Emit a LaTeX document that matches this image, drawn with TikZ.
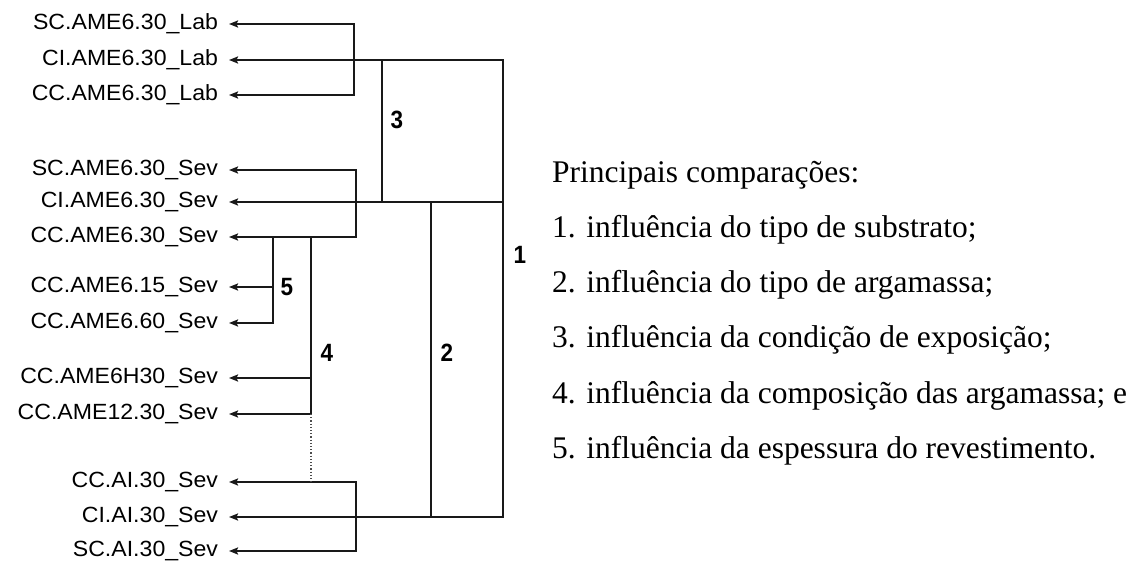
\documentclass[tikz,border=0pt]{standalone}
\usepackage{fontspec}
\usetikzlibrary{arrows.meta}
\newfontfamily\lblfont[FakeStretch=1.05]{Liberation Sans}
\newfontfamily\numfont[FakeStretch=0.9]{Liberation Sans}
\newfontfamily\txtfont{Liberation Serif}
\begin{document}
\begin{tikzpicture}[x=1pt,y=-1pt,
  lbl/.style={anchor=east,inner xsep=11pt,inner ysep=0pt,outer sep=0pt,font=\lblfont\fontsize{22}{26}\selectfont},
  num/.style={inner sep=0pt,font=\numfont\bfseries\fontsize{25}{29}\selectfont},
  txt/.style={anchor=west,inner sep=0pt,font=\txtfont\fontsize{31.5}{36}\selectfont},
  ln/.style={line width=2pt,draw=black!90},
  tip/.tip={Stealth[length=9pt,width=7pt,inset=1.5pt]},
  arr/.style={ln,-tip},
  arr2/.style={ln,tip-tip},
  dot/.style={line width=1.2pt,draw=black!70,dotted}]
\useasboundingbox (0,0) rectangle (1136,562);
% labels
\node[lbl] (n1) at (229,24) {SC.AME6.30\_Lab};
\node[lbl] (n2) at (229,60) {CI.AME6.30\_Lab};
\node[lbl] (n3) at (229,95) {CC.AME6.30\_Lab};
\node[lbl] (n4) at (229,170) {SC.AME6.30\_Sev};
\node[lbl] (n5) at (229,202) {CI.AME6.30\_Sev};
\node[lbl] (n6) at (229,237) {CC.AME6.30\_Sev};
\node[lbl] (n7) at (229,287) {CC.AME6.15\_Sev};
\node[lbl] (n8) at (229,323) {CC.AME6.60\_Sev};
\node[lbl] (n9) at (229,378) {CC.AME6H30\_Sev};
\node[lbl] (n10) at (229,414) {CC.AME12.30\_Sev};
\node[lbl] (n11) at (229,482) {CC.AI.30\_Sev};
\node[lbl] (n12) at (229,517) {CI.AI.30\_Sev};
\node[lbl] (n13) at (229,551) {SC.AI.30\_Sev};
% bracket x positions
\coordinate (xL) at (354,0);
\coordinate (xS) at (356,0);
\coordinate (xA) at (356,0);
\coordinate (x1) at (503,0);
\coordinate (x2) at (431,0);
\coordinate (x3) at (382,0);
\coordinate (x4) at (311,0);
\coordinate (x5) at (273,0);
% connectors
\draw[arr2] (n1.east) -- (n1.east -| xL) -- (n3.east -| xL) -- (n3.east);
\draw[arr2] (n4.east) -- (n4.east -| xS) -- (n6.east -| xS) -- (n6.east);
\draw[arr2] (n11.east) -- (n11.east -| xA) -- (n13.east -| xA) -- (n13.east);
\draw[arr2] (n2.east) -- (n2.east -| x1) -- (n12.east -| x1) -- (n12.east);
\draw[arr] (n5.east -| x1) -- (n5.east);
\draw[ln] (n2.east -| x3) -- (n5.east -| x3);
\draw[ln] (n5.east -| x2) -- (n12.east -| x2);
\draw[arr] (n6.east -| x5) -- (n8.east -| x5) -- (n8.east);
\draw[arr] (n7.east -| x5) -- (n7.east);
\draw[arr] (n6.east -| x4) -- (n10.east -| x4) -- (n10.east);
\draw[arr] (n9.east -| x4) -- (n9.east);
\draw[dot] (n10.east -| x4) -- (n11.east -| x4);
% numbers
\node[num] (c3) at (397,120) {3};
\node[num] (c1) at (520,255) {1};
\node[num] (c5) at (287,287) {5};
\node[num] (c4) at (327,353) {4};
\node[num] (c2) at (447,353) {2};
% legend text
\node[txt] (t0) at (552,175) {Principais comparações:};
\node[txt] (t1) at (552,230) {1. influência do tipo de substrato;};
\node[txt] (t2) at (552,285) {2. influência do tipo de argamassa;};
\node[txt] (t3) at (552,340) {3. influência da condição de exposição;};
\node[txt] (t4) at (552,396) {4. influência da composição das argamassa; e};
\node[txt] (t5) at (552,451) {5. influência da espessura do revestimento.};
\end{tikzpicture}
\end{document}
